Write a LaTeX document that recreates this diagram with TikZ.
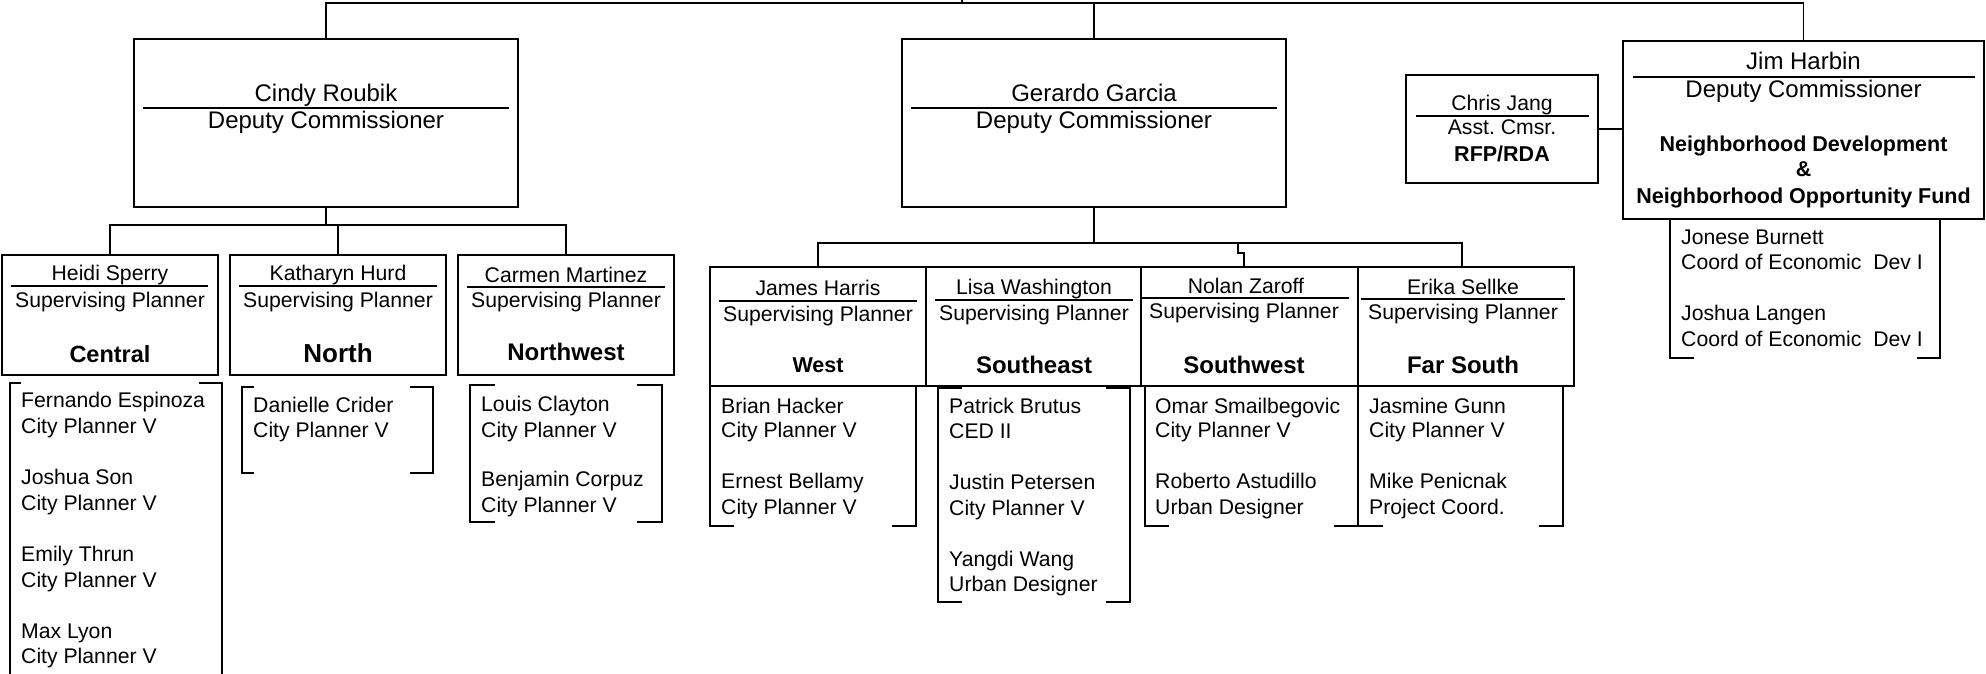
\documentclass[tikz,border=0pt]{standalone}
\usepackage{fontspec}
\setmainfont{Liberation Sans}
\begin{document}
\frenchspacing
\begin{tikzpicture}[x=1pt,y=-1pt,
 frame/.style={draw, line width=1.9pt, inner sep=0pt},
 conn/.style={line width=1.9pt},
 sepline/.style={line width=1.5pt},
 brk/.style={line width=1.9pt},
 t21/.style={inner sep=0pt, anchor=base, font=\fontsize{21.2}{25}\selectfont},
 t24/.style={inner sep=0pt, anchor=base, font=\fontsize{24}{28}\selectfont},
 b21/.style={inner sep=0pt, anchor=base, font=\bfseries\fontsize{21.5}{25}\selectfont},
 b24/.style={inner sep=0pt, anchor=base, font=\bfseries\fontsize{24}{28}\selectfont},
 s21/.style={inner sep=0pt, anchor=base west, font=\fontsize{21.2}{25}\selectfont}]
\useasboundingbox (0,0) rectangle (1986,674);

% ---------- boxes ----------
\node[frame, minimum width=384, minimum height=168] (cindy) at (326,123) {};
\node[frame, minimum width=384, minimum height=168] (gerardo) at (1094,123) {};
\node[frame, minimum width=192, minimum height=108] (chris) at (1502,129) {};
\node[frame, minimum width=361, minimum height=178] (jim) at (1803.5,130) {};
\node[frame, minimum width=216, minimum height=120] (heidi) at (110,315) {};
\node[frame, minimum width=216, minimum height=120] (kath) at (338,315) {};
\node[frame, minimum width=216, minimum height=120] (carmen) at (566,315) {};
\node[frame, minimum width=216, minimum height=119] (james) at (818,326.5) {};
\node[frame, minimum width=215, minimum height=119] (lisa) at (1033.5,326.5) {};
\node[frame, minimum width=217, minimum height=119] (nolan) at (1249.5,326.5) {};
\node[frame, minimum width=216, minimum height=119] (erika) at (1466,326.5) {};

% ---------- connectors ----------
\coordinate (ceo) at (962,0);
\coordinate (tbar) at (962,3);
\draw[conn] (ceo) -- (tbar);
\draw[conn] (cindy.north) -- (cindy.north |- tbar) -- (jim.north |- tbar) -- (jim.north);
\draw[conn] (gerardo.north) -- (gerardo.north |- tbar);

\coordinate (cbar) at (326,225);
\draw[conn] (cindy.south) -- (cbar);
\draw[conn] (heidi.north) -- (heidi.north |- cbar) -- (carmen.north |- cbar) -- (carmen.north);
\draw[conn] (kath.north) -- (kath.north |- cbar);

\coordinate (gbar) at (1094,243);
\coordinate (erikaIn) at (1462,267);
\coordinate (nolanJog) at (1238,243);
\coordinate (nolanIn) at (1244,267);
\draw[conn] (gerardo.south) -- (gbar);
\draw[conn] (james.north) -- (james.north |- gbar) -- (erikaIn |- gbar) -- (erikaIn);
\draw[conn] (nolanJog) -- ++(0,10) -| (nolanIn);

\draw[line width=1.5pt] (chris.east) -- (jim.west |- chris.east);

% ---------- box texts ----------
\node[t24] (cindyN) at (326,102) {Cindy Roubik};
\draw[sepline] (143,108) -- (509,108);
\node[t24] (cindyT) at (326,129) {Deputy Commissioner};

\node[t24] (gerN) at (1094,102) {Gerardo Garcia};
\draw[sepline] (911,108) -- (1277,108);
\node[t24] (gerT) at (1094,129) {Deputy Commissioner};

\node[t21] (chrisN) at (1502,111) {Chris Jang};
\draw[sepline] (1416,116) -- (1589,116);
\node[t21] (chrisT) at (1502,135) {Asst. Cmsr.};
\node[b21] (chrisU) at (1502,161) {RFP/RDA};

\node[t24] (jimN) at (1803.5,70) {Jim Harbin};
\draw[sepline] (1633,77) -- (1975,77);
\node[t24] (jimT) at (1803.5,98) {Deputy Commissioner};
\node[b21] (jimU1) at (1803.5,151) {Neighborhood Development};
\node[b21] (jimU2) at (1803.5,176) {\&};
\node[b21] (jimU3) at (1803.5,203) {Neighborhood Opportunity Fund};

\node[t21] (heidiN) at (110,280) {Heidi Sperry};
\draw[sepline] (11,286) -- (208,286);
\node[t21] (heidiT) at (110,307) {Supervising Planner};
\node[inner sep=0pt, anchor=base, font=\bfseries\fontsize{23.5}{28}\selectfont] (heidiU) at (110,362) {Central};

\node[t21] (kathN) at (338,280) {Katharyn Hurd};
\draw[sepline] (239,286) -- (437,286);
\node[t21] (kathT) at (338,307) {Supervising Planner};
\node[inner sep=0pt, anchor=base, font=\bfseries\fontsize{26}{30}\selectfont] (kathU) at (338,362) {North};

\node[t21] (carmenN) at (566,282) {Carmen Martinez};
\draw[sepline] (467,287) -- (665,287);
\node[t21] (carmenT) at (566,307) {Supervising Planner};
\node[b24] (carmenU) at (566,360) {Northwest};

\node[t21] (jamesN) at (818,295) {James Harris};
\draw[sepline] (719,301) -- (917,301);
\node[t21] (jamesT) at (818,321) {Supervising Planner};
\node[b21] (jamesU) at (818,372) {West};

\node[t21] (lisaN) at (1034,294) {Lisa Washington};
\draw[sepline] (935,300) -- (1133,300);
\node[t21] (lisaT) at (1034,320) {Supervising Planner};
\node[b24] (lisaU) at (1034,373) {Southeast};

\node[t21] (nolanN) at (1246,293) {Nolan Zaroff};
\draw[sepline] (1142,298) -- (1349,298);
\node[t21] (nolanT) at (1244,318) {Supervising Planner};
\node[b24] (nolanU) at (1244,373) {Southwest};

\node[t21] (erikaN) at (1463,294) {Erika Sellke};
\draw[sepline] (1361,299) -- (1565,299);
\node[t21] (erikaT) at (1463,319) {Supervising Planner};
\node[b24] (erikaU) at (1463,373) {Far South};

% ---------- staff brackets ----------
\draw[brk] (21,383) -- (10,383) -- (10,680);
\draw[brk] (199,383) -- (222,383) -- (222,680);
\draw[brk] (254,387) -- (242,387) -- (242,473) -- (254,473);
\draw[brk] (410,387) -- (433,387) -- (433,473) -- (410,473);
\draw[brk] (495,385) -- (470,385) -- (470,522) -- (495,522);
\draw[brk] (637,385) -- (662,385) -- (662,522) -- (637,522);
\draw[brk] (710,386) -- (710,526) -- (734,526);
\draw[brk] (916,386) -- (916,526) -- (892,526);
\draw[brk] (962,388) -- (938,388) -- (938,602) -- (962,602);
\draw[brk] (1106,388) -- (1130,388) -- (1130,602) -- (1106,602);
\draw[brk] (1145,386) -- (1145,526) -- (1169,526);
\draw[brk] (1358,386) -- (1358,526) -- (1334,526);
\draw[brk] (1358,526) -- (1383,526);
\draw[brk] (1563,386) -- (1563,526) -- (1539,526);
\draw[brk] (1670,219) -- (1670,358) -- (1694,358);
\draw[brk] (1940,219) -- (1940,358) -- (1917,358);

% ---------- staff texts ----------
\node[s21] (h1) at (21,407) {Fernando Espinoza};
\node[s21] (h2) at (21,433) {City Planner V};
\node[s21] (h3) at (21,484) {Joshua Son};
\node[s21] (h4) at (21,510) {City Planner V};
\node[s21] (h5) at (21,561) {Emily Thrun};
\node[s21] (h6) at (21,587) {City Planner V};
\node[s21] (h7) at (21,638) {Max Lyon};
\node[s21] (h8) at (21,663) {City Planner V};

\node[s21] (k1) at (253,412) {Danielle Crider};
\node[s21] (k2) at (253,437) {City Planner V};

\node[s21] (c1) at (481,411) {Louis Clayton};
\node[s21] (c2) at (481,437) {City Planner V};
\node[s21] (c3) at (481,486) {Benjamin Corpuz};
\node[s21] (c4) at (481,512) {City Planner V};

\node[s21] (j1) at (721,413) {Brian Hacker};
\node[s21] (j2) at (721,437) {City Planner V};
\node[s21] (j3) at (721,488) {Ernest Bellamy};
\node[s21] (j4) at (721,514) {City Planner V};

\node[s21] (l1) at (949,413) {Patrick Brutus};
\node[s21] (l2) at (949,438) {CED II};
\node[s21] (l3) at (949,489) {Justin Petersen};
\node[s21] (l4) at (949,515) {City Planner V};
\node[s21] (l5) at (949,566) {Yangdi Wang};
\node[s21] (l6) at (949,591) {Urban Designer};

\node[s21] (n1) at (1155,413) {Omar Smailbegovic};
\node[s21] (n2) at (1155,437) {City Planner V};
\node[s21] (n3) at (1155,488) {Roberto Astudillo};
\node[s21] (n4) at (1155,514) {Urban Designer};

\node[s21] (e1) at (1369,413) {Jasmine Gunn};
\node[s21] (e2) at (1369,437) {City Planner V};
\node[s21] (e3) at (1369,488) {Mike Penicnak};
\node[s21] (e4) at (1369,514) {Project Coord.};

\node[s21] (m1) at (1681,244) {Jonese Burnett};
\node[s21] (m2) at (1681,269) {Coord of Economic\ \ Dev I};
\node[s21] (m3) at (1681,320) {Joshua Langen};
\node[s21] (m4) at (1681,346) {Coord of Economic\ \ Dev I};
\end{tikzpicture}
\end{document}
